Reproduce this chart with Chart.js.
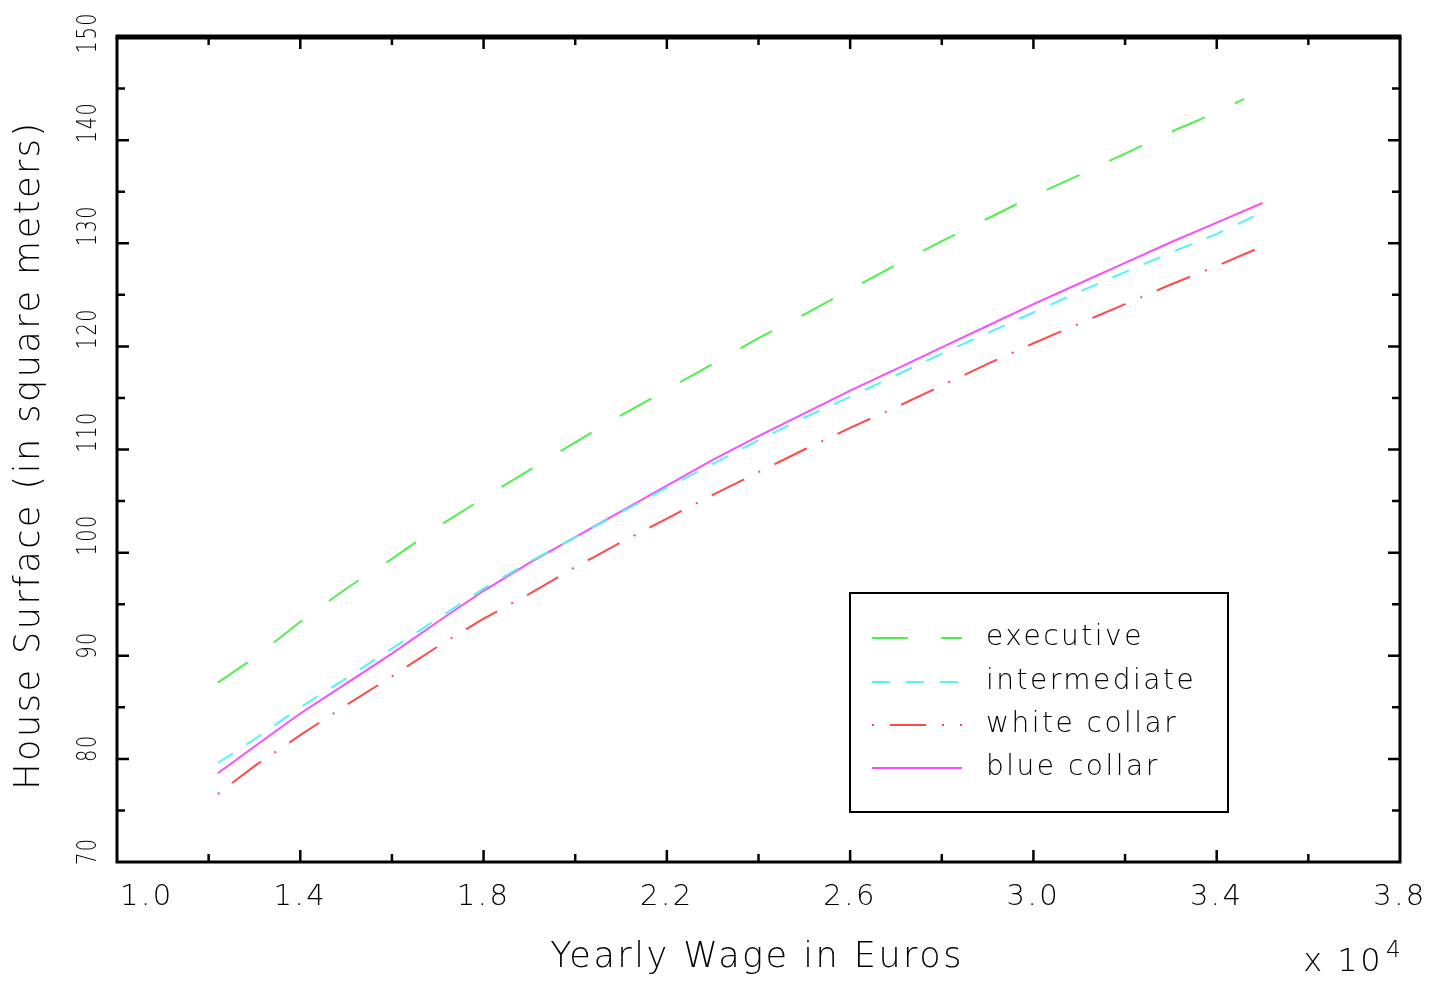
<!DOCTYPE html>
<html>
<head>
<meta charset="utf-8">
<script src="https://cdn.jsdelivr.net/npm/chart.js@4.4.0/dist/chart.umd.min.js"></script>
<style>
  html, body { margin: 0; padding: 0; background: #fff; }
  #wrap { width: 1445px; height: 983px; position: relative; }
</style>
</head>
<body>
<div id="wrap"><canvas id="chart"></canvas></div>
<script>
// Yearly wage, in units of 10^4 euros
const wage = [1.22, 1.3, 1.4, 1.5, 1.6, 1.7, 1.8, 1.9, 2.0, 2.1, 2.2, 2.3, 2.4, 2.5, 2.6, 2.7, 2.8, 2.9, 3.0, 3.1, 3.2, 3.3, 3.4];

// House surface (m2) per category
const executive    = [87.4, 89.8, 93.3, 96.5, 99.4, 102.5, 105.3, 108.0, 110.7, 113.3, 115.8, 118.3, 120.8, 123.1, 125.5, 127.9, 130.2, 132.4, 134.6, 136.6, 138.7, 140.8, 142.7];
const intermediate = [79.6, 81.9, 85.0, 87.8, 90.7, 93.6, 96.5, 99.1, 101.5, 103.9, 106.3, 108.6, 110.9, 113.1, 115.1, 117.2, 119.3, 121.3, 123.3, 125.3, 127.2, 129.1, 130.9];
const whiteCollar  = [76.6, 79.3, 82.3, 85.2, 88.0, 90.9, 93.6, 96.0, 98.6, 101.0, 103.3, 105.6, 107.8, 110.0, 112.1, 114.1, 116.2, 118.3, 120.3, 122.2, 124.1, 126.0, 127.8];
const blueCollar   = [78.6, 81.2, 84.4, 87.3, 90.2, 93.3, 96.3, 99.0, 101.5, 104.0, 106.5, 109.0, 111.3, 113.5, 115.7, 117.8, 119.9, 122.0, 124.1, 126.1, 128.1, 130.1, 132.0];

// last point of each curve [wage, surface]
const executiveEnd    = [3.46, 144.0];
const intermediateEnd = [3.49, 132.8];
const whiteCollarEnd  = [3.49, 129.5];
const blueCollarEnd   = [3.50, 133.9];

const seriesLabels = ['executive', 'intermediate', 'white collar', 'blue collar'];

// axis ticks
const xTicks = [1.0, 1.4, 1.8, 2.2, 2.6, 3.0, 3.4, 3.8];
const xMinorTicks = [1.2, 1.6, 2.0, 2.4, 2.8, 3.2, 3.6];
const yTicks = [70, 80, 90, 100, 110, 120, 130, 140, 150];
const yMinorTicks = [75, 85, 95, 105, 115, 125, 135, 145];

const FONT = '"DejaVu Sans", sans-serif';
const styles = [
    { color: '#4ef04e', dash: [36, 33] },
    { color: '#50f5f5', dash: [18, 16] },
    { color: '#ff4a4a', dash: [2, 16, 36, 16] },
    { color: '#f850f8', dash: [] }
];

function toPoints(ys, end) {
    return wage.map((w, i) => ({ x: w, y: ys[i] })).concat([{ x: end[0], y: end[1] }]);
}

function setText(ctx, size, spacing) {
    ctx.font = `200 ${size}px ${FONT}`;
    ctx.fillStyle = '#000';
    ctx.letterSpacing = (spacing || 2) + 'px';
}

const framePlugin = {
    id: 'frame',
    afterDraw(chart) {
        const ctx = chart.ctx;
        const a = chart.chartArea;
        const xs = chart.scales.x;
        const ys = chart.scales.y;
        ctx.save();
        ctx.strokeStyle = '#000';
        ctx.lineCap = 'butt';

        // box
        ctx.lineWidth = 3;
        ctx.beginPath();
        ctx.moveTo(a.left, a.top);
        ctx.lineTo(a.left, a.bottom);
        ctx.lineTo(a.right, a.bottom);
        ctx.lineTo(a.right, a.top);
        ctx.stroke();
        ctx.lineWidth = 5;
        ctx.beginPath();
        ctx.moveTo(a.left - 1.5, a.top);
        ctx.lineTo(a.right + 1.5, a.top);
        ctx.stroke();

        // inward ticks on all four sides
        ctx.lineWidth = 2.5;
        const tickX = (v, len) => {
            const px = xs.getPixelForValue(v);
            ctx.beginPath();
            ctx.moveTo(px, a.bottom); ctx.lineTo(px, a.bottom - len);
            ctx.moveTo(px, a.top); ctx.lineTo(px, a.top + len);
            ctx.stroke();
        };
        const tickY = (v, len) => {
            const py = ys.getPixelForValue(v);
            ctx.beginPath();
            ctx.moveTo(a.left, py); ctx.lineTo(a.left + len, py);
            ctx.moveTo(a.right, py); ctx.lineTo(a.right - len, py);
            ctx.stroke();
        };
        xTicks.slice(1, -1).forEach(v => tickX(v, 12));
        xMinorTicks.forEach(v => tickX(v, 8));
        yTicks.slice(1, -1).forEach(v => tickY(v, 12));
        yMinorTicks.forEach(v => tickY(v, 8));

        // x tick labels
        setText(ctx, 29, 2.5);
        ctx.textBaseline = 'middle';
        xTicks.forEach((v, i) => {
            ctx.textAlign = i === 0 ? 'left' : 'center';
            const px = xs.getPixelForValue(v) + (i === 0 ? 3 : 0);
            ctx.fillText(v.toFixed(1), px, 897);
        });

        // y tick labels, rotated and a little condensed, starting at the tick
        const squeeze = 0.72;
        setText(ctx, 27, 2);
        yTicks.forEach(v => {
            const label = String(v);
            const w = ctx.measureText(label).width * squeeze;
            const start = Math.max(ys.getPixelForValue(v) + 3, w + 12);
            ctx.save();
            ctx.translate(89, start);
            ctx.rotate(-Math.PI / 2);
            ctx.scale(squeeze, 1);
            ctx.textAlign = 'left';
            ctx.textBaseline = 'middle';
            ctx.fillText(label, 0, 0);
            ctx.restore();
        });

        // axis titles
        setText(ctx, 35, 2.5);
        ctx.textAlign = 'center';
        ctx.textBaseline = 'middle';
        ctx.fillText('Yearly Wage in Euros', 757, 958);
        ctx.save();
        ctx.translate(30, 455);
        ctx.rotate(-Math.PI / 2);
        ctx.fillText('House Surface (in square meters)', 0, 0);
        ctx.restore();

        // exponent
        ctx.textAlign = 'right';
        ctx.textBaseline = 'alphabetic';
        setText(ctx, 32, 2.5);
        ctx.fillText('x 10', 1383, 971);
        setText(ctx, 23);
        ctx.textAlign = 'left';
        ctx.fillText('4', 1386, 957);

        // legend
        ctx.lineWidth = 2;
        ctx.strokeStyle = '#000';
        ctx.strokeRect(850, 593, 378, 219);
        const rows = [638, 682, 725, 768];
        setText(ctx, 28, 2.5);
        ctx.textAlign = 'left';
        ctx.textBaseline = 'middle';
        seriesLabels.forEach((label, i) => {
            ctx.save();
            ctx.strokeStyle = styles[i].color;
            ctx.lineWidth = 2;
            ctx.setLineDash(styles[i].dash);
            ctx.beginPath();
            ctx.moveTo(872, rows[i]);
            ctx.lineTo(962, rows[i]);
            ctx.stroke();
            ctx.restore();
            ctx.fillText(label, 986, rows[i]);
        });
        ctx.restore();
    }
};

const allSeries = [
    toPoints(executive, executiveEnd),
    toPoints(intermediate, intermediateEnd),
    toPoints(whiteCollar, whiteCollarEnd),
    toPoints(blueCollar, blueCollarEnd)
];

new Chart(document.getElementById('chart'), {
    type: 'line',
    data: {
        datasets: allSeries.map((pts, i) => ({
            label: seriesLabels[i],
            data: pts,
            borderColor: styles[i].color,
            borderWidth: 2,
            borderDash: styles[i].dash,
            pointRadius: 0,
            tension: 0,
            fill: false
        }))
    },
    options: {
        responsive: true,
        maintainAspectRatio: false,
        animation: false,
        layout: { padding: { top: 37, right: 45, left: 0, bottom: 0 } },
        plugins: { legend: { display: false }, tooltip: { enabled: false } },
        scales: {
            x: {
                type: 'linear', min: 1.0, max: 3.8,
                ticks: { display: false },
                grid: { display: false },
                border: { display: false },
                afterFit: s => { s.height = 121; }
            },
            y: {
                min: 70, max: 150,
                ticks: { display: false },
                grid: { display: false },
                border: { display: false },
                afterFit: s => { s.width = 117; }
            }
        }
    },
    plugins: [framePlugin]
});
</script>
</body>
</html>
